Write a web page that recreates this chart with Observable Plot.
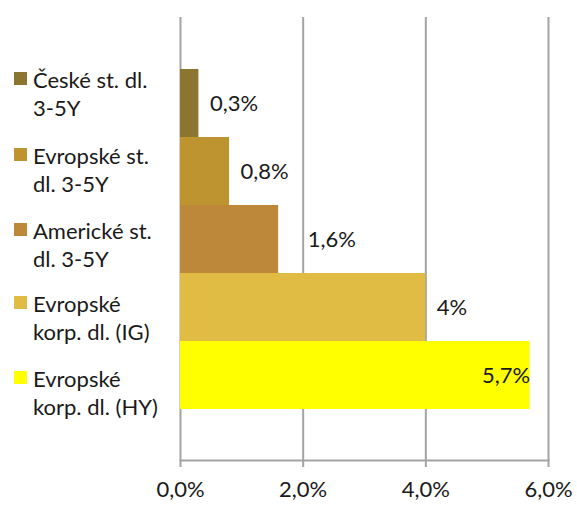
<!DOCTYPE html>
<html>
<head>
<meta charset="utf-8">
<script src="https://cdn.jsdelivr.net/npm/d3@7"></script>
<script src="https://cdn.jsdelivr.net/npm/@observablehq/plot@0.6"></script>
<style>
  html, body { margin: 0; padding: 0; background: #fff; }
  #wrap { position: relative; width: 577px; height: 506px; font-family: Lato, "Open Sans", sans-serif; color: #1a1a1a; }
  #legend { position: absolute; left: 0; top: 0; }
  .item { position: absolute; left: 14px; width: 160px; }
  .sw { position: absolute; left: 0; top: 6px; width: 13px; height: 13px; }
  .lbl { position: absolute; left: 19px; font-size: 22px; line-height: 28px; white-space: nowrap; }
</style>
</head>
<body>
<div id="wrap"><div id="legend"></div></div>
<script>
const categories = ["České st. dl. 3-5Y", "Evropské st. dl. 3-5Y", "Americké st. dl. 3-5Y", "Evropské korp. dl. (IG)", "Evropské korp. dl. (HY)"];
const legendLines = [["České st. dl.", "3-5Y"], ["Evropské st.", "dl. 3-5Y"], ["Americké st.", "dl. 3-5Y"], ["Evropské", "korp. dl. (IG)"], ["Evropské", "korp. dl. (HY)"]];
const values = [0.3, 0.8, 1.6, 4, 5.7];
const valueLabels = ["0,3%", "0,8%", "1,6%", "4%", "5,7%"];
const colors = ["#8c7530", "#bd942f", "#bd8839", "#e1bc45", "#ffff00"];
const xTicks = [0, 2, 4, 6];

const data = categories.map((c, i) => ({cat: c, value: values[i], label: valueLabels[i], color: colors[i]}));

const plot = Plot.plot({
  width: 577,
  height: 506,
  marginLeft: 180,
  marginRight: 29,
  marginTop: 17,
  marginBottom: 46,
  style: {fontFamily: "Lato, 'Open Sans', sans-serif", fontSize: "22px", color: "#1a1a1a", background: "transparent"},
  x: {domain: [0, 6], ticks: xTicks, tickFormat: d => d.toFixed(1).replace(".", ",") + "%", tickSize: 7, tickPadding: 14, label: null},
  y: {domain: categories, range: [68, 410], padding: 0, axis: null},
  marks: [
    Plot.ruleX(xTicks, {stroke: "#a3a3a3", strokeWidth: 2}),
    Plot.frame({anchor: "bottom", stroke: "#a3a3a3", strokeWidth: 2}),
    Plot.barX(data, {y: "cat", x: "value", fill: "color"}),
    Plot.text(data.filter((d, i) => i < 4 && i !== 2), {y: "cat", x: "value", text: "label", textAnchor: "start", dx: 11, fill: "#1a1a1a"}),
    Plot.text(data.filter((d, i) => i === 2), {y: "cat", x: "value", text: "label", textAnchor: "start", dx: 29, fill: "#1a1a1a"}),
    Plot.text(data.filter((d, i) => i === 4), {y: "cat", x: "value", text: "label", textAnchor: "end", dx: 0, fill: "#1a1a1a"})
  ]
});

d3.select(plot).selectAll("g[aria-label='x-axis tick'] path, g[aria-label='x-axis tick']").attr("stroke", "#a3a3a3").attr("stroke-width", 2);

const wrap = document.getElementById("wrap");
wrap.insertBefore(plot, wrap.firstChild);

const legendTops = [66, 142, 217, 290, 365];
const legend = document.getElementById("legend");
legendLines.forEach((lines, i) => {
  const item = document.createElement("div");
  item.className = "item";
  item.style.top = legendTops[i] + "px";
  const sw = document.createElement("div");
  sw.className = "sw";
  sw.style.background = colors[i];
  const lbl = document.createElement("div");
  lbl.className = "lbl";
  lbl.innerHTML = lines.join("<br>");
  item.appendChild(sw);
  item.appendChild(lbl);
  legend.appendChild(item);
});
</script>
</body>
</html>
